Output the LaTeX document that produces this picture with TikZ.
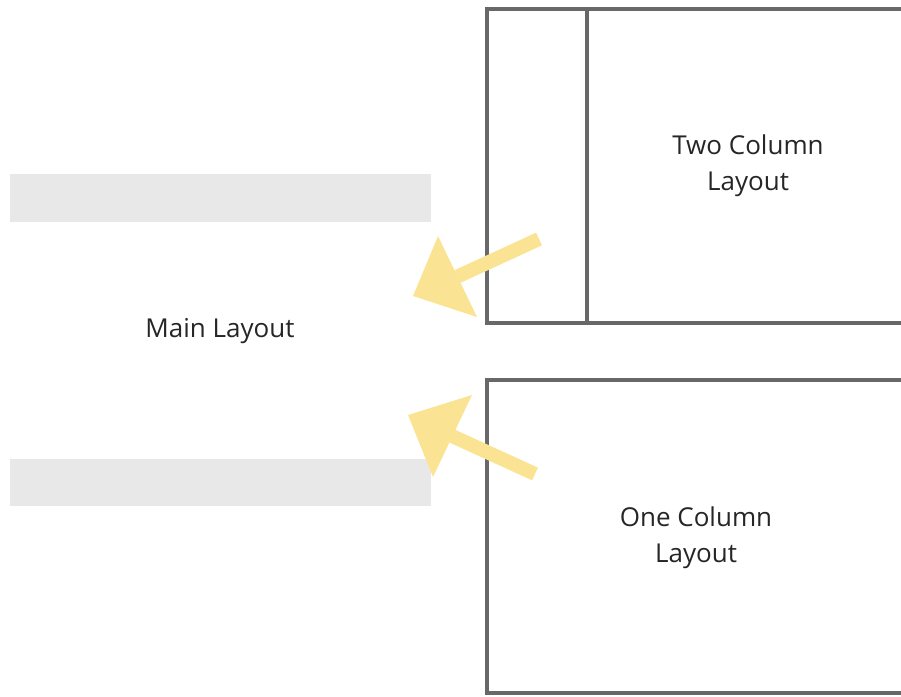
\documentclass[tikz,border=0pt]{standalone}
\usepackage{fontspec}
\setmainfont{Open Sans}
\definecolor{frame}{RGB}{104,104,104}
\definecolor{bar}{RGB}{232,232,232}
\definecolor{arrowy}{RGB}{250,228,148}
\begin{document}
\begin{tikzpicture}[x=1pt,y=-1pt,
  frameline/.style={draw=frame,line width=4pt},
  barbox/.style={fill=bar},
  label/.style={font=\fontsize{26}{36}\selectfont,align=center,text=black!85},
  shaft/.style={draw=arrowy,line width=14pt},
  headfill/.style={fill=arrowy}]
\useasboundingbox (0,0) rectangle (901,696);
\begin{scope}
\clip (0,0) rectangle (901,696);
% gray bars
\fill[barbox] (10,174) rectangle (431,222);
\fill[barbox] (10,459) rectangle (431,506);
% frames
\draw[frameline] (910,9) -- (487,9) -- (487,323) -- (910,323);
\draw[frameline] (587,9) -- (587,323);
\draw[frameline] (910,380) -- (487,380) -- (487,693) -- (910,693);
\end{scope}
% arrow 1
\coordinate (t1) at (539,239);
\coordinate (b1) at (457.5,276.5);
\coordinate (p1) at (413,296);
\coordinate (h1a) at (438,236);
\coordinate (h1b) at (477,317);
\draw[shaft] (t1) -- (b1);
\fill[headfill] (p1) -- (h1a) -- (h1b) -- cycle;
% arrow 2
\coordinate (t2) at (535,474);
\coordinate (b2) at (452,436);
\coordinate (p2) at (408,415);
\coordinate (h2a) at (472,395);
\coordinate (h2b) at (433,477);
\draw[shaft] (t2) -- (b2);
\fill[headfill] (p2) -- (h2a) -- (h2b) -- cycle;
% labels
\node[label] (main) at (220,331) {Main Layout};
\node[label] (two) at (748,166) {Two Column\\Layout};
\node[label] (one) at (696,538) {One Column\\Layout};
\end{tikzpicture}
\end{document}
